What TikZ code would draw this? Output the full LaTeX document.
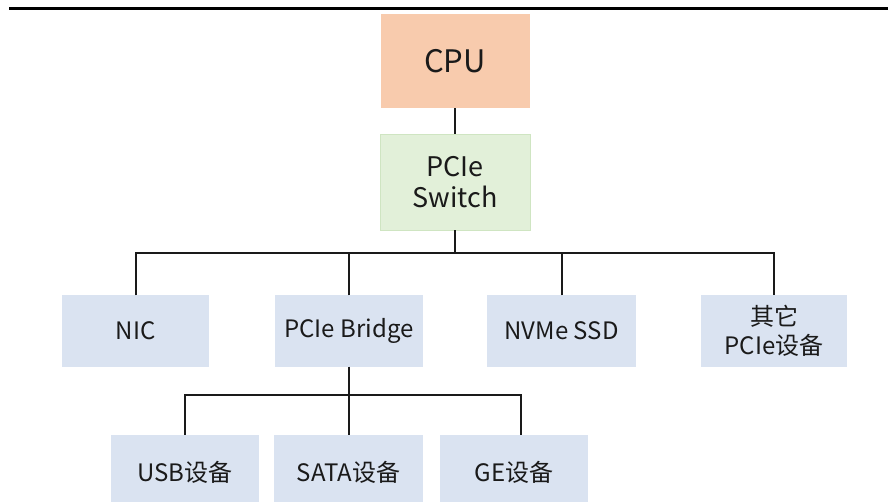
\documentclass[tikz,border=0pt]{standalone}
\usepackage{fontspec}
\setmainfont{Noto Sans CJK SC}
\definecolor{cpufill}{HTML}{F8CBAD}
\definecolor{swfill}{HTML}{E2F0D9}
\definecolor{swline}{HTML}{CFE5C2}
\definecolor{devfill}{HTML}{DAE3F1}
\definecolor{ink}{HTML}{1A1A1A}
\tikzset{
  box/.style={inner sep=0pt, align=center, text=ink},
  cpubox/.style={box, fill=cpufill, minimum width=149pt, minimum height=94pt, font=\fontsize{31}{36}\selectfont},
  swbox/.style={box, fill=swfill, draw=swline, line width=0.8pt, minimum width=150pt, minimum height=96pt, font=\fontsize{27}{31}\selectfont},
  devbox/.style={box, fill=devfill, minimum height=71pt, font=\fontsize{24}{29}\selectfont},
  wire/.style={line width=2pt, draw=ink},
}
\begin{document}
\begin{tikzpicture}[x=1pt, y=-1pt]
\useasboundingbox (0,0) rectangle (888,502);
\clip (0,0) rectangle (888,502);
% header rule
\draw[line width=3pt, draw=black] (9,8.5) -- (888,8.5);

% processor and switch
\node[cpubox] (cpu) at (455,61) {CPU};
\node[swbox] (sw) at (455,182) {PCIe\\Switch};

% first level devices
\node[devbox, minimum width=147pt] (nic) at (135.5,331) {NIC};
\node[devbox, minimum width=148pt] (bridge) at (349,331) {PCIe Bridge};
\node[devbox, minimum width=149pt] (nvme) at (561.5,331) {NVMe SSD};
\node[devbox, minimum width=146pt] (other) at (774,331) {其它\\PCIe设备};

% devices behind the bridge
\node[devbox, minimum width=148pt, minimum height=75pt] (usb) at (185,472.5) {USB设备};
\node[devbox, minimum width=149pt, minimum height=75pt] (sata) at (348.5,472.5) {SATA设备};
\node[devbox, minimum width=148pt, minimum height=75pt] (ge) at (514,472.5) {GE设备};

% buses
\coordinate (bus) at (455,253);
\coordinate (bbus) at (349,395);
\coordinate (gedrop) at ([xshift=7pt]ge.north);

\draw[wire] (cpu.south) -- (sw.north);
\draw[wire] (sw.south) -- (bus);
\draw[wire] (nic.north) -- (nic.north |- bus) -- (other.north |- bus) -- (other.north);
\draw[wire] (bridge.north) -- (bridge.north |- bus);
\draw[wire] (nvme.north) -- (nvme.north |- bus);

\draw[wire] (bridge.south) -- (bbus);
\draw[wire] (usb.north) -- (usb.north |- bbus) -- (gedrop |- bbus) -- (gedrop);
\draw[wire] (sata.north) -- (sata.north |- bbus);
\end{tikzpicture}
\end{document}
